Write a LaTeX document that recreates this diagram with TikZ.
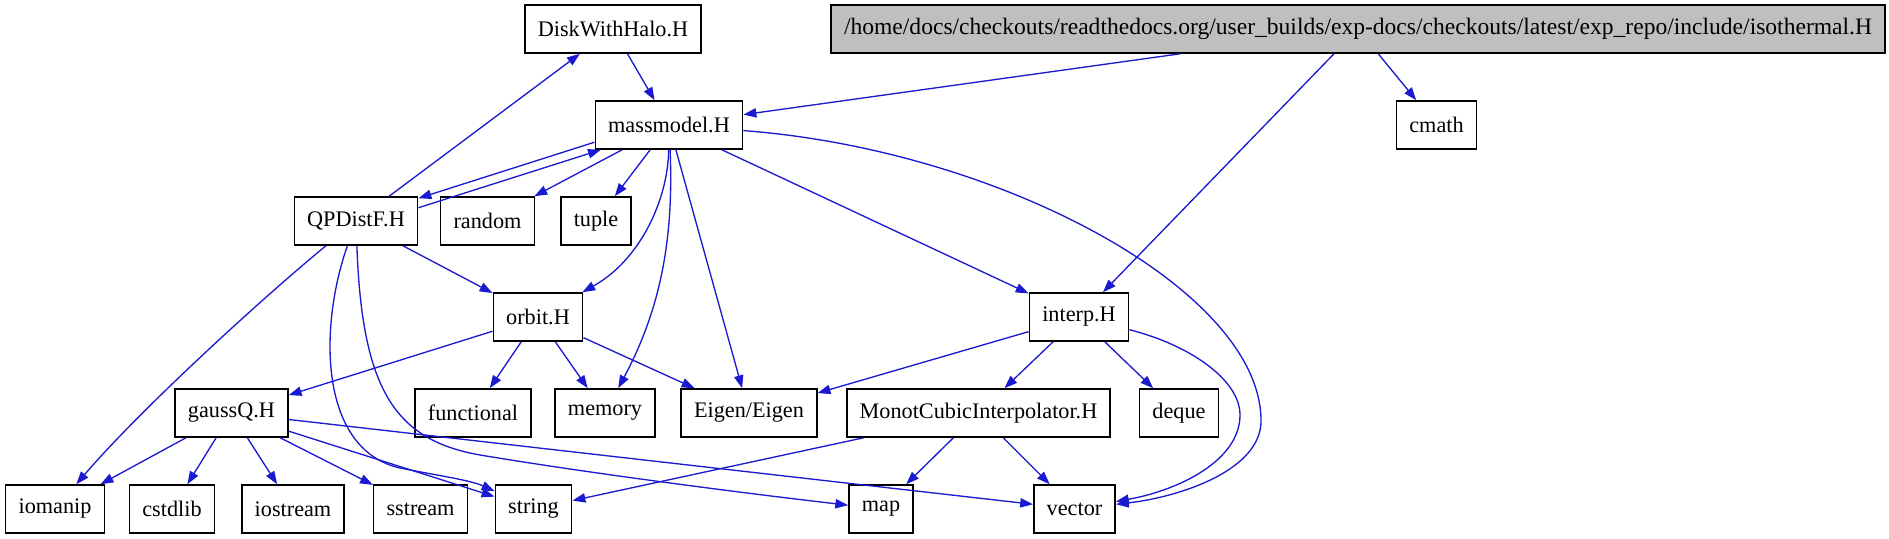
\documentclass[tikz,border=0pt]{standalone}
\usepackage{fontspec}
\setmainfont{Liberation Serif}
\usetikzlibrary{arrows.meta}
\definecolor{edgeblue}{RGB}{26,26,208}
\definecolor{rootgray}{RGB}{191,191,191}

\begin{document}
\begin{tikzpicture}[x=0.45pt,y=0.45pt,yscale=-1,xscale=1,
  file/.style={draw=black,line width=0.7pt,fill=white,minimum height=21.6pt,inner xsep=5.8pt,inner ysep=0pt,font=\fontsize{10}{12}\selectfont},
  dep/.style={draw=edgeblue,line width=0.6pt,-{Triangle[length=5.8pt,width=4.2pt]}}]
\useasboundingbox (0,0) rectangle (1889,539);

% Text Node
\node [file] (disk) at (613,29) {DiskWithHalo.H};
% Text Node
\node [file,fill=rootgray,minimum width=474.3pt,font=\fontsize{10.6}{12}\selectfont] (root) at (1358,29) {/home/docs/checkouts/readthedocs.org/user\_builds/exp-docs/checkouts/latest/exp\_repo/include/isothermal.H};
% Text Node
\node [file] (massmodel) at (669,125) {massmodel.H};
% Text Node
\node [file] (cmath) at (1436.5,125) {cmath};
% Text Node
\node [file] (qpdistf) at (356,221) {QPDistF.H};
% Text Node
\node [file] (random) at (487.5,221) {random};
% Text Node
\node [file] (tuple) at (596,221) {tuple};
% Text Node
\node [file] (orbit) at (538,317) {orbit.H};
% Text Node
\node [file] (interp) at (1079,317) {interp.H};
% Text Node
\node [file] (gaussq) at (231.5,413) {gaussQ.H};
% Text Node
\node [file] (functional) at (473,413) {functional};
% Text Node
\node [file] (memory) at (605,413) {memory};
% Text Node
\node [file] (eigen) at (749,413) {Eigen/Eigen};
% Text Node
\node [file] (monot) at (978.5,413) {MonotCubicInterpolator.H};
% Text Node
\node [file] (deque) at (1179,413) {deque};
% Text Node
\node [file] (iomanip) at (55,509) {iomanip};
% Text Node
\node [file] (cstdlib) at (172,509) {cstdlib};
% Text Node
\node [file] (iostream) at (293,509) {iostream};
% Text Node
\node [file] (sstream) at (420.5,509) {sstream};
% Text Node
\node [file] (string) at (533.5,509) {string};
% Text Node
\node [file] (map) at (881,509) {map};
% Text Node
\node [file] (vector) at (1074.5,509) {vector};

%Straight Lines
\draw [dep] (root) -- (massmodel);
\draw [dep] (root) -- (interp);
\draw [dep] (root) -- (cmath);
\draw [dep] (disk) -- (massmodel);
\draw [dep] (qpdistf) -- (disk);
\draw [dep] (massmodel.193) -- (qpdistf.20);
\draw [dep] (qpdistf.12) -- (massmodel.200);
\draw [dep] (massmodel) -- (random);
\draw [dep] (massmodel) -- (tuple);
\draw [dep] (massmodel) -- (eigen);
\draw [dep] (massmodel) -- (interp);
\draw [dep] (qpdistf) -- (orbit);
\draw [dep] (orbit) -- (gaussq);
\draw [dep] (orbit) -- (functional);
\draw [dep] (orbit) -- (memory);
\draw [dep] (orbit) -- (eigen);
\draw [dep] (gaussq) -- (iomanip);
\draw [dep] (gaussq) -- (cstdlib);
\draw [dep] (gaussq) -- (iostream);
\draw [dep] (gaussq) -- (sstream);
\draw [dep] (gaussq) -- (string);
\draw [dep] (gaussq) -- (vector);
\draw [dep] (interp) -- (eigen);
\draw [dep] (interp) -- (monot);
\draw [dep] (interp) -- (deque);
\draw [dep] (monot) -- (string);
\draw [dep] (monot) -- (map);
\draw [dep] (monot) -- (vector);

%Curve Lines
\draw [dep] (massmodel) .. controls (668,200) and (640,260) .. (orbit);
\draw [dep] (massmodel) .. controls (674,240) and (660,310) .. (memory);
\draw [dep] (massmodel) .. controls (1000,150) and (1260,290) .. (1261,420) .. controls (1262,470) and (1180,497) .. (vector);
\draw [dep] (interp) .. controls (1190,345) and (1240,380) .. (1240,415) .. controls (1240,460) and (1180,490) .. (vector);
\draw [dep] (qpdistf) .. controls (260,300) and (140,410) .. (iomanip);
\draw [dep] (qpdistf) .. controls (318,330) and (320,450) .. (400,468) .. controls (440,476) and (470,480) .. (string);
\draw [dep] (qpdistf) .. controls (362,390) and (395,440) .. (480,455) .. controls (600,475) and (760,495) .. (map);

\end{tikzpicture}
\end{document}
